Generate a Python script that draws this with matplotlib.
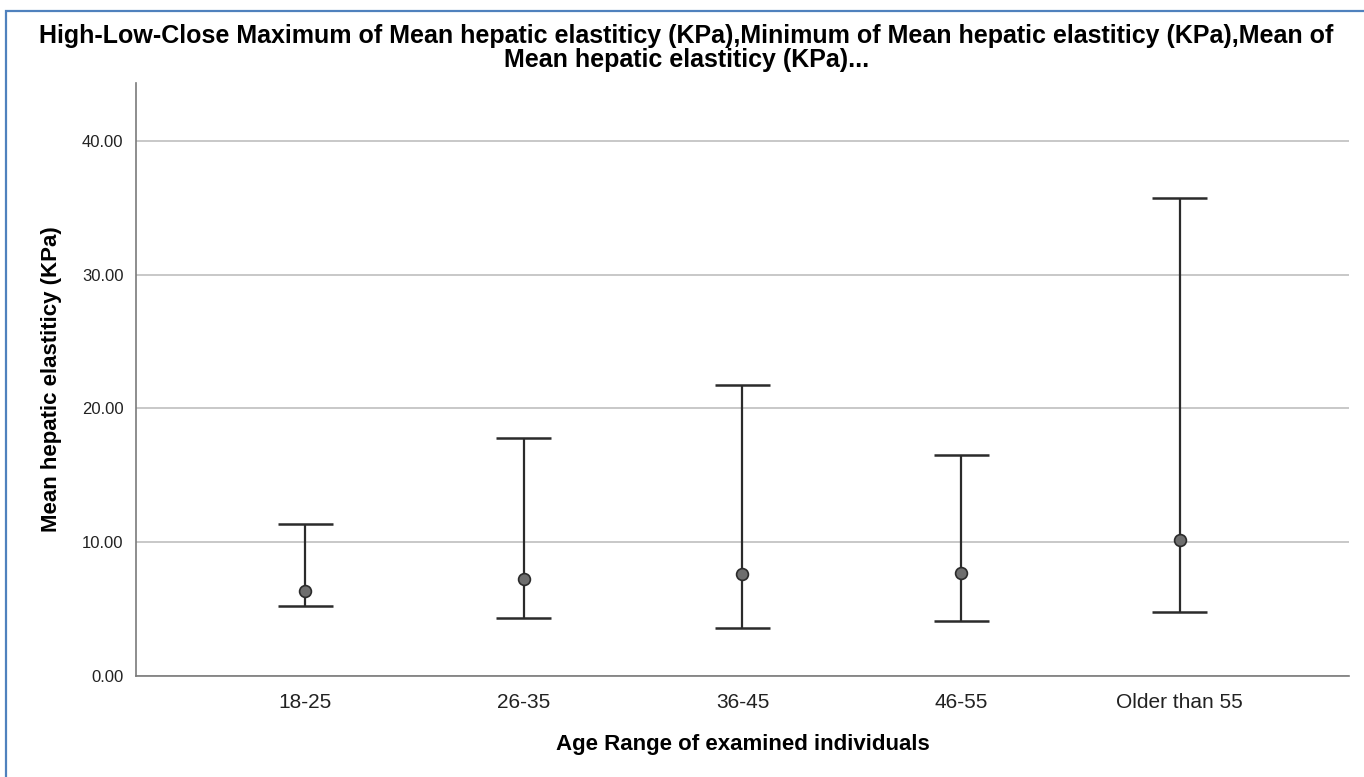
import matplotlib.pyplot as plt
from matplotlib.patches import Rectangle

plt.rcParams['font.family'] = ['Liberation Sans', 'DejaVu Sans']

age_groups = ["18-25", "26-35", "36-45", "46-55", "Older than 55"]
high_values = [11.39, 17.77, 21.73, 16.50, 35.70]
low_values = [5.26, 4.31, 3.61, 4.11, 4.77]
mean_values = [6.36, 7.28, 7.63, 7.68, 10.15]

fig = plt.figure(figsize=(13.64, 7.77), dpi=100)
ax = fig.add_axes([0.0997, 0.130, 0.8893, 0.763])

x = list(range(len(age_groups)))
line_color = "#2b2b2b"
cap_half = 0.126

ax.vlines(x, low_values, high_values, color=line_color, linewidth=1.6, zorder=3)
ax.hlines(high_values, [i - cap_half for i in x], [i + cap_half for i in x],
          color=line_color, linewidth=1.8, zorder=3)
ax.hlines(low_values, [i - cap_half for i in x], [i + cap_half for i in x],
          color=line_color, linewidth=1.8, zorder=3)
ax.plot(x, mean_values, linestyle="none", marker="o", markersize=8.5,
        markerfacecolor="#6e6e6e", markeredgecolor="#2b2b2b",
        markeredgewidth=1.2, zorder=4)

ax.set_xlim(-0.775, 4.775)
ax.set_ylim(0, 44.3)
ax.set_yticks([0, 10, 20, 30, 40])
ax.set_yticklabels(["0.00", "10.00", "20.00", "30.00", "40.00"], fontsize=12, color="#222222")
ax.set_xticks(x)
ax.set_xticklabels(age_groups, fontsize=15, color="#222222")
ax.tick_params(axis="both", length=0)
ax.tick_params(axis="y", pad=9)
ax.tick_params(axis="x", pad=12)

ax.grid(axis="y", color="#c8c8c8", linewidth=1.4)
ax.set_axisbelow(True)
for side in ["top", "right"]:
    ax.spines[side].set_visible(False)
for side in ["left", "bottom"]:
    ax.spines[side].set_color("#7a7a7a")
    ax.spines[side].set_linewidth(1.2)

ax.set_ylabel("Mean hepatic elastiticy (KPa)", fontsize=16, fontweight="bold", labelpad=14)
ax.set_xlabel("Age Range of examined individuals", fontsize=16, fontweight="bold", labelpad=16)

fig.text(0.5033, 1 - 24 / 777,
         "High-Low-Close Maximum of Mean hepatic elastiticy (KPa),Minimum of Mean hepatic elastiticy (KPa),Mean of\nMean hepatic elastiticy (KPa)...",
         ha="center", va="top", fontsize=18, fontweight="bold", linespacing=1.0)

# blue frame around the chart
frame = Rectangle((6 / 1364, -0.1), 1.2, 1 - 11 / 777 + 0.1, transform=fig.transFigure,
                  fill=False, edgecolor="#4f81bd", linewidth=1.6)
fig.patches.append(frame)

fig.savefig("out.png", dpi=100)
